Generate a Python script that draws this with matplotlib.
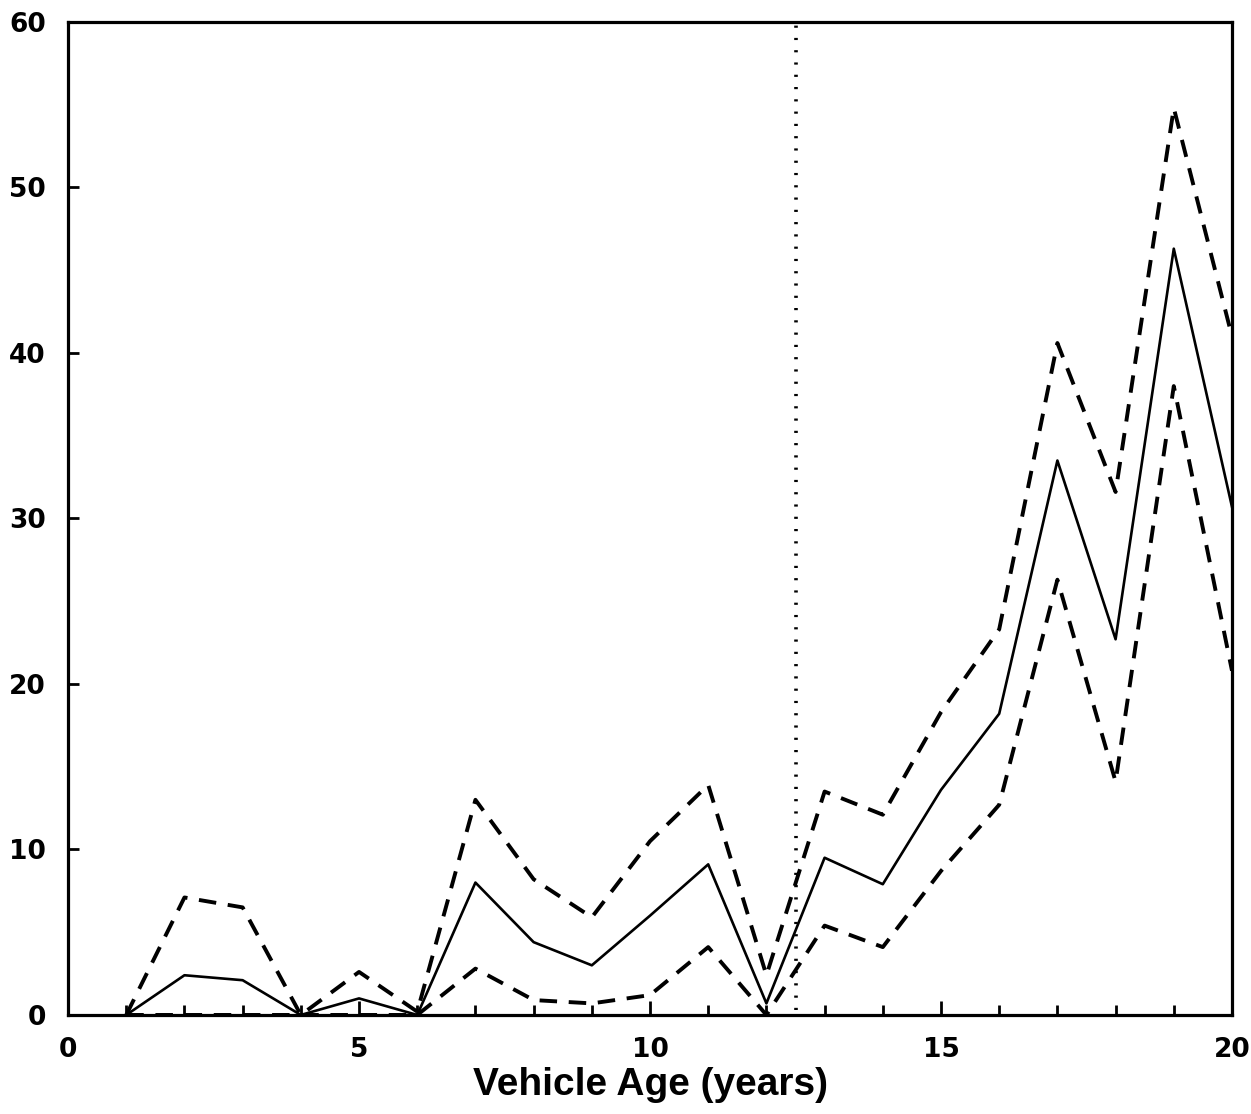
import numpy as np
import matplotlib
matplotlib.use("Agg")
import matplotlib.pyplot as plt

# vehicle age (years)
age = [1, 2, 3, 4, 5, 6, 7, 8, 9, 10, 11, 12, 13, 14, 15, 16, 17, 18, 19, 20]

# central estimate (solid) and upper / lower bounds (dashed)
estimate = [0, 2.4, 2.1, 0, 1.0, 0, 8.0, 4.4, 3.0, 6.0, 9.1, 0.7,
            9.5, 7.9, 13.6, 18.2, 33.5, 22.7, 46.3, 30.7]
upper = [0, 7.1, 6.5, 0, 2.6, 0.2, 13.0, 8.2, 5.9, 10.5, 13.9, 2.4,
         13.5, 12.1, 18.3, 23.3, 40.6, 31.6, 54.8, 41.0]
lower = [0, 0, 0, 0, 0, 0, 2.8, 0.9, 0.7, 1.2, 4.1, 0,
         5.4, 4.1, 8.7, 12.7, 26.3, 14.1, 38.0, 20.8]

cutoff = 12.5

x_ticks = [0, 5, 10, 15, 20]
y_ticks = [0, 10, 20, 30, 40, 50, 60]

fig = plt.figure(figsize=(12.51, 11.14), dpi=100)
ax = fig.add_axes([0.0544, 0.0889, 0.9304, 0.8914])

ax.plot(age, estimate, color="black", lw=1.9)
ax.plot(age, upper, color="black", lw=2.8, dashes=(4.5, 3))
ax.plot(age, lower, color="black", lw=2.8, dashes=(4.5, 3))
ax.axvline(cutoff, ymin=0.005, ymax=1, color="black", lw=2.6, dashes=(0.6, 2.8))

ax.set_xlim(0, 20)
ax.set_ylim(0, 60)

for side in ax.spines.values():
    side.set_linewidth(2.3)

ax.set_xticks(x_ticks)
ax.set_xticks(range(0, 21), minor=True)
ax.set_yticks(y_ticks)
ax.tick_params(axis="both", which="major", direction="in", length=10, width=2,
               labelsize=19)
ax.tick_params(axis="x", which="minor", direction="in", length=7, width=2)
ax.tick_params(axis="y", which="major", length=8, pad=16)
ax.tick_params(axis="x", which="major", pad=16)
for lab in ax.get_xticklabels() + ax.get_yticklabels():
    lab.set_fontweight("bold")

ax.set_xlabel("Vehicle Age (years)", fontsize=28, fontweight="bold",
              family=["Liberation Sans", "DejaVu Sans"], labelpad=3)

fig.savefig("out.png", dpi=100)
